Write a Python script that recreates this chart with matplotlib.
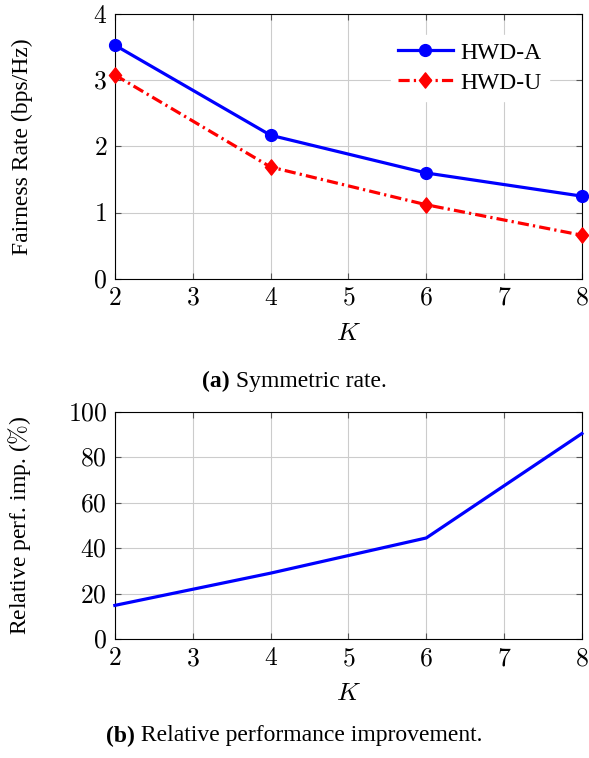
import matplotlib
matplotlib.use("Agg")
import matplotlib.pyplot as plt
from matplotlib.ticker import FuncFormatter
from matplotlib.path import Path

# number of users
K = [2, 4, 6, 8]
# symmetric (fairness) rate in bps/Hz
rate_hwd_a = [3.53, 2.17, 1.60, 1.25]
rate_hwd_u = [3.08, 1.69, 1.12, 0.66]
# relative performance improvement of HWD-A over HWD-U, in %
rel_imp = [14.8, 29.0, 44.5, 90.5]

plt.rcParams['font.family'] = ['Liberation Serif', 'DejaVu Serif']
plt.rcParams['mathtext.fontset'] = 'cm'

cm_fmt = FuncFormatter(lambda v, pos: r'$%d$' % v)
# slightly narrow diamond, like the pgfplots one
diamond = Path([(0, 1), (0.8, 0), (0, -1), (-0.8, 0), (0, 1)],
               [Path.MOVETO, Path.LINETO, Path.LINETO, Path.LINETO, Path.CLOSEPOLY])

TICK_FS = 18.5
LABEL_FS = 17


def style_axes(ax, ymax, ystep):
    ax.set_xlim(2, 8)
    ax.set_ylim(0, ymax)
    ax.set_xticks(range(2, 9))
    ax.set_yticks(range(0, ymax + 1, ystep))
    ax.xaxis.set_major_formatter(cm_fmt)
    ax.yaxis.set_major_formatter(cm_fmt)
    ax.grid(True, color='#cccccc', linewidth=0.8)
    ax.set_axisbelow(True)
    ax.tick_params(direction='in', top=True, right=True, length=4,
                   color='#555555', labelsize=TICK_FS)
    ax.tick_params(axis='x', pad=6.5)
    ax.tick_params(axis='y', pad=5.5)
    for s in ax.spines.values():
        s.set_linewidth(0.8)
    ax.set_xlabel(r'$K$', fontsize=TICK_FS, labelpad=9.5)
    ax.yaxis.set_label_coords(-0.175, 0.5)


def caption(fig, y, tag, text):
    # bold tag followed by the plain caption, centred as one line
    r = fig.canvas.get_renderer()
    t1 = fig.text(0, y, tag, fontsize=LABEL_FS, fontweight='bold', va='center')
    t2 = fig.text(0, y, ' ' + text, fontsize=LABEL_FS, va='center')
    w1 = t1.get_window_extent(r).width
    w2 = t2.get_window_extent(r).width
    W = fig.bbox.width
    x0 = (W - w1 - w2) / 2
    t1.set_x(x0 / W)
    t2.set_x((x0 + w1) / W)


fig = plt.figure(figsize=(5.89, 7.58), dpi=100)

ax1 = fig.add_axes([0.195, 0.632, 0.793, 0.3495])
ax1.plot(K, rate_hwd_a, color='blue', linewidth=2.3, marker='o',
         markersize=8.5, label='HWD-A', clip_on=False, zorder=4)
ax1.plot(K, rate_hwd_u, color='red', linewidth=2.3, marker=diamond,
         markersize=11, linestyle=(0, (3.5, 1.3, 0.7, 1.3)), label='HWD-U',
         clip_on=False, zorder=3)
style_axes(ax1, 4, 1)
ax1.set_ylabel('Fairness Rate (bps/Hz)', fontsize=LABEL_FS)
leg = ax1.legend(loc='upper right', fontsize=LABEL_FS, frameon=True,
                 fancybox=False, edgecolor='white', framealpha=1,
                 handlelength=2.3, handletextpad=0.35, borderpad=0.3,
                 labelspacing=0.36, bbox_to_anchor=(0.955, 0.965))

ax2 = fig.add_axes([0.195, 0.157, 0.793, 0.2995])
ax2.plot(K, rel_imp, color='blue', linewidth=2.3, clip_on=False, zorder=3)
style_axes(ax2, 100, 20)
ax2.set_ylabel(r'Relative perf. imp. ($\%$)', fontsize=LABEL_FS)

caption(fig, 1 - 381 / 758, '(a)', 'Symmetric rate.')
caption(fig, 1 - 736 / 758, '(b)', 'Relative performance improvement.')

fig.savefig('out.png', dpi=100)
